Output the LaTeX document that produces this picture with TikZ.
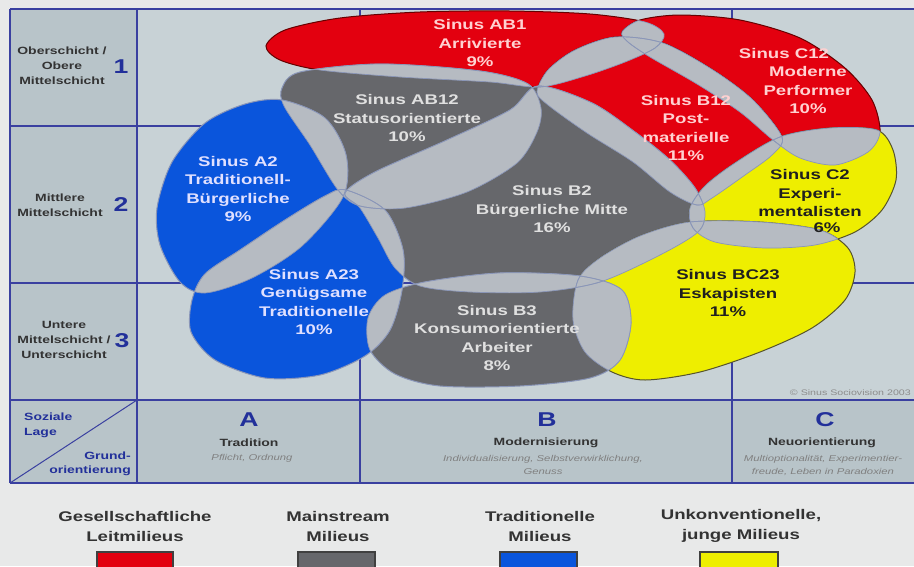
\documentclass[tikz,border=0pt]{standalone}
\usepackage{fontspec}
\setmainfont{Liberation Sans}[FakeStretch=1.33]
\usepackage{tikz}

\definecolor{sinusred}{HTML}{E3000F}
\definecolor{sinusgray}{HTML}{66676B}
\definecolor{sinusblue}{HTML}{0A55DC}
\definecolor{sinusyellow}{HTML}{EEEE00}
\definecolor{lensgray}{HTML}{B6BBC2}
\definecolor{lensline}{HTML}{8A96B8}
\definecolor{cellbg}{HTML}{C8D2D6}
\definecolor{headbg}{HTML}{B8C4C9}
\definecolor{pagebg}{HTML}{E8E9E9}
\definecolor{gridblue}{HTML}{3A40A0}
\definecolor{labelblue}{HTML}{22309A}

% outlines of the milieus (pixel units, y downwards)
\tikzset{
  pAB1/.style={insert path={plot[smooth cycle] coordinates {(266,46) (285,30) (340,18) (420,12) (510,11) (590,14) (645,22) (664,34) (655,48) (625,62) (585,76) (540,87) (490,82) (400,77) (320,70) (280,60)}}},
  pC12/.style={insert path={plot[smooth cycle] coordinates {(622,32) (640,20) (680,15) (740,20) (800,38) (845,68) (872,100) (880,132) (868,152) (835,165) (800,158) (773,140) (740,112) (697,84) (650,57) (628,42)}}},
  pB12/.style={insert path={plot[smooth cycle] coordinates {(537,92) (548,70) (575,50) (615,37) (663,43) (713,70) (753,100) (782,137) (772,155) (745,175) (712,198) (697,205) (670,192) (633,162) (587,133) (548,105)}}},
  pAB12/.style={insert path={plot[smooth cycle] coordinates {(282,88) (300,72) (380,64) (480,71) (528,84) (541,108) (537,132) (517,163) (467,192) (405,208) (360,206) (338,190) (310,145) (284,106)}}},
  pB2/.style={insert path={plot[smooth cycle] coordinates {(345,193) (375,172) (447,140) (510,110) (538,86) (592,103) (635,132) (670,160) (695,188) (705,212) (698,232) (660,255) (600,282) (540,292) (470,292) (420,286) (395,268) (378,238) (360,208)}}},
  pC2/.style={insert path={plot[smooth cycle] coordinates {(780,137) (830,128) (877,130) (893,150) (896,180) (882,210) (855,232) (815,245) (765,248) (715,242) (693,228) (690,208) (705,186) (735,163)}}},
  pBC23/.style={insert path={plot[smooth cycle] coordinates {(578,280) (600,258) (640,236) (690,222) (760,222) (820,230) (848,248) (855,272) (845,300) (812,328) (760,352) (700,372) (645,380) (612,372) (585,352) (573,320)}}},
  pB3/.style={insert path={plot[smooth cycle] coordinates {(425,282) (500,273) (580,276) (622,290) (631,323) (620,360) (590,378) (520,386) (440,386) (395,374) (370,350) (368,318) (385,295)}}},
  pA2/.style={insert path={plot[smooth cycle] coordinates {(282,100) (325,118) (346,155) (343,197) (302,246) (252,278) (205,293) (180,282) (160,245) (157,208) (172,162) (205,123) (245,104)}}},
  pA23/.style={insert path={plot[smooth cycle] coordinates {(192,300) (205,274) (240,250) (285,220) (325,196) (346,190) (385,210) (403,250) (402,290) (390,330) (365,356) (320,375) (265,378) (215,360) (191,332)}}},
}

\begin{document}
\begin{tikzpicture}[
  x=1pt, y=-1pt,
  every node/.style={inner sep=0pt},
  gridline/.style={gridblue, line width=1.3pt},
  milieu/.style={font=\fontsize{14}{18.5}\selectfont\bfseries, align=center},
  rowlab/.style={font=\fontsize{10.5}{15}\selectfont\bfseries, align=center, text=black!80},
  rownum/.style={font=\fontsize{20}{20}\selectfont\bfseries, text=labelblue},
  colhead/.style={font=\fontsize{10.5}{13}\selectfont\bfseries, text=black!80},
  colsub/.style={font=\fontsize{8.5}{13}\selectfont\itshape, align=center, text=black!50},
  legend/.style={font=\fontsize{14}{20}\selectfont\bfseries, align=center, text=black!80},
  legbox/.style={draw=black!75, line width=1.2pt},
  lens/.style={fill=lensgray},
  lensedge/.style={draw=lensline, line width=0.7pt},
]
  \useasboundingbox (0,0) rectangle (914,566);
  \clip (0,0) rectangle (914,566);

  % background and grid
  \fill[pagebg] (0,0) rectangle (914,566);
  \fill[cellbg] (10,9) rectangle (914,483);
  \fill[headbg] (10,9) rectangle (137,483);
  \fill[headbg] (10,400) rectangle (914,483);
  \foreach \y in {9,126,283,400,483}
    \draw[gridline] (10,\y) -- (914,\y);
  \foreach \x in {10,137,360,732}
    \draw[gridline] (\x,9) -- (\x,483);
  \draw[gridline, line width=1pt] (10,483) -- (137,400);

  % milieus
  \foreach \m/\c/\e in {AB1/sinusred/red!40!black, C12/sinusred/red!40!black,
      B12/sinusred/red!40!black, AB12/sinusgray/lensline, B2/sinusgray/lensline,
      C2/sinusyellow/olive!50!black, BC23/sinusyellow/olive!50!black,
      B3/sinusgray/lensline, A2/sinusblue/lensline, A23/sinusblue/lensline}
    \filldraw[fill=\c, draw=\e, line width=1pt, p\m];

  % overlaps
  \foreach \a [count=\i] in {AB1,C12,B12,AB12,B2,C2,BC23,B3,A2,A23}
    \foreach \b [count=\j] in {AB1,C12,B12,AB12,B2,C2,BC23,B3,A2,A23} {
      \ifnum\i<\j
        \begin{scope}
          \clip[p\a];
          \fill[lens, p\b];
        \end{scope}
      \fi
    }
  \foreach \a [count=\i] in {AB1,C12,B12,AB12,B2,C2,BC23,B3,A2,A23}
    \foreach \b [count=\j] in {AB1,C12,B12,AB12,B2,C2,BC23,B3,A2,A23} {
      \ifnum\i=\j\else
        \begin{scope}
          \clip[p\a];
          \draw[lensedge, p\b];
        \end{scope}
      \fi
    }

  % milieu labels
  \node[milieu, text=red!18!white] (tAB1) at (480,43) {Sinus AB1\\Arrivierte\\9\%};
  \node[milieu, text=red!18!white] (tC12a) at (784,53) {Sinus C12};
  \node[milieu, text=red!18!white] (tC12b) at (808,90) {Moderne\\Performer\\10\%};
  \node[milieu, text=red!18!white] (tB12) at (686,128) {Sinus B12\\Post-\\materielle\\11\%};
  \node[milieu, text=black!88] (tC2) at (810,193) {Sinus C2\\Experi-\\mentalisten};
  \node[milieu, text=black!88] (tC2p) at (827,228) {6\%};
  \node[milieu, text=black!88] (tBC23) at (728,293) {Sinus BC23\\Eskapisten\\11\%};
  \node[milieu, text=white!88!black] (tAB12) at (407,118) {Sinus AB12\\Statusorientierte\\10\%};
  \node[milieu, text=white!88!black] (tB2) at (552,209) {Sinus B2\\Bürgerliche Mitte\\16\%};
  \node[milieu, text=white!88!black] (tB3) at (497,338) {Sinus B3\\Konsumorientierte\\Arbeiter\\8\%};
  \node[milieu, text=blue!12!white] (tA2) at (238,189) {Sinus A2\\Traditionell-\\Bürgerliche\\9\%};
  \node[milieu, text=blue!12!white] (tA23) at (314,302) {Sinus A23\\Genügsame\\Traditionelle\\10\%};

  % social class rows
  \node[rowlab] (row1) at (62,66) {Oberschicht /\\Obere\\Mittelschicht};
  \node[rownum] (num1) at (121,67) {1};
  \node[rowlab] (row2) at (60,205) {Mittlere\\Mittelschicht};
  \node[rownum] (num2) at (121,205) {2};
  \node[rowlab] (row3) at (64,340) {Untere\\Mittelschicht /\\Unterschicht};
  \node[rownum] (num3) at (122,341) {3};

  % corner cell
  \node[font=\fontsize{10.5}{15}\selectfont\bfseries, text=labelblue, align=left, anchor=west]
    (lage) at (24,425) {Soziale\\Lage};
  \node[font=\fontsize{10.5}{13.5}\selectfont\bfseries, text=labelblue, align=right, anchor=east]
    (grund) at (131,464) {Grund-\\orientierung};

  % value columns
  \node[rownum] (colA) at (249,420) {A};
  \node[colhead] (tradA) at (249,443) {Tradition};
  \node[colsub] (subA) at (252,458) {Pflicht, Ordnung};
  \node[rownum] (colB) at (547,420) {B};
  \node[colhead] (modB) at (546,443) {Modernisierung};
  \node[colsub] (subB) at (543,465) {Individualisierung, Selbstverwirklichung,\\Genuss};
  \node[rownum] (colC) at (825,420) {C};
  \node[colhead] (neuC) at (822,443) {Neuorientierung};
  \node[colsub] (subC) at (823,465) {Multioptionalität, Experimentier-\\freude, Leben in Paradoxien};

  \node[font=\fontsize{8}{9}\selectfont, text=black!45, anchor=east] (copy) at (911,393)
    {© Sinus Sociovision 2003};

  % legend
  \node[legend] (legR) at (135,526) {Gesellschaftliche\\Leitmilieus};
  \node[legend] (legG) at (338,526) {Mainstream\\Milieus};
  \node[legend] (legB) at (540,526) {Traditionelle\\Milieus};
  \node[legend] (legY) at (741,526) {Unkonventionelle,\\junge Milieus};
  \draw[legbox, fill=sinusred] (97,552) rectangle (173,570);
  \draw[legbox, fill=sinusgray] (298,552) rectangle (375,570);
  \draw[legbox, fill=sinusblue] (500,552) rectangle (577,570);
  \draw[legbox, fill=sinusyellow] (700,552) rectangle (778,570);
\end{tikzpicture}
\end{document}
